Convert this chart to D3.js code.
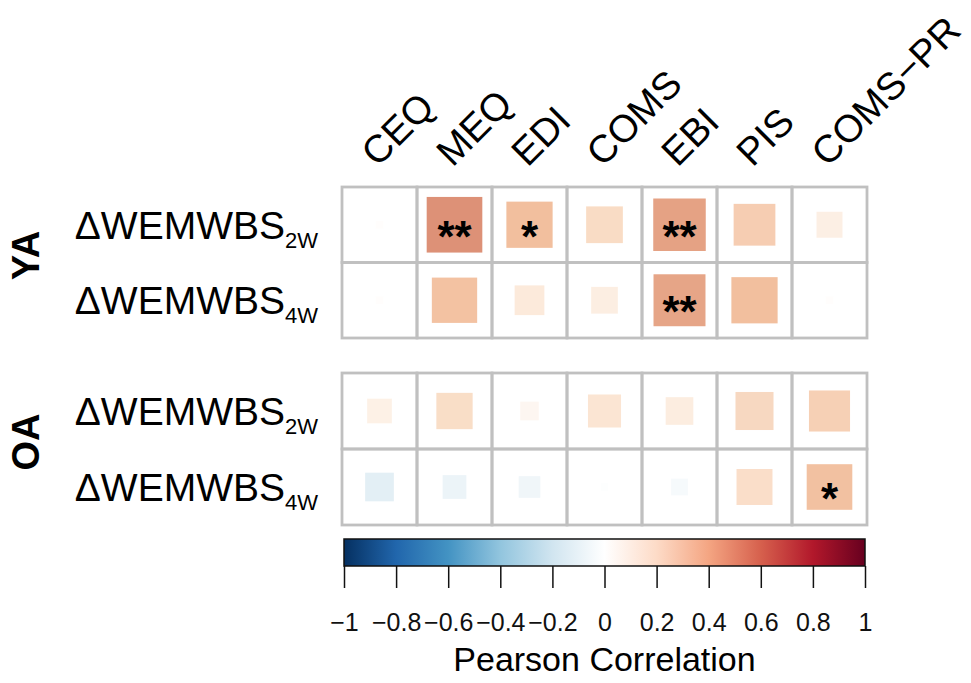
<!DOCTYPE html>
<html>
<head>
<meta charset="utf-8">
<script src="https://cdn.jsdelivr.net/npm/d3@7"></script>
<style>
  html, body { margin: 0; padding: 0; background: #fff; }
  svg { display: block; font-family: "Liberation Sans", Arial, Helvetica, sans-serif; }
</style>
</head>
<body>
<svg id="chart" width="971" height="683"></svg>
<script>
// ---- data ----
const measures = ["CEQ", "MEQ", "EDI", "COMS", "EBI", "PIS", "COMS\u2212PR"];
const groups = ["YA", "OA"];
const outcomes = ["2W", "4W"];
// Pearson r, rows: [2W, 4W] for each group
const valuesYA2W = [0.01, 0.55, 0.38, 0.24, 0.49, 0.31, 0.12];
const valuesYA4W = [0.01, 0.365, 0.157, 0.127, 0.48, 0.38, 0.01];
const valuesOA2W = [0.108, 0.234, 0.062, 0.194, 0.136, 0.257, 0.30];
const valuesOA4W = [-0.146, -0.10, -0.083, -0.01, -0.05, 0.23, 0.37];
const sigYA2W = ["", "**", "*", "", "**", "", ""];
const sigYA4W = ["", "", "", "", "**", "", ""];
const sigOA2W = ["", "", "", "", "", "", ""];
const sigOA4W = ["", "", "", "", "", "", "*"];
const colorTicks = [-1, -0.8, -0.6, -0.4, -0.2, 0, 0.2, 0.4, 0.6, 0.8, 1];
const paletteRdBu = ["#053061", "#2166AC", "#4393C3", "#92C5DE", "#D1E5F0", "#FFFFFF",
                     "#FDDBC7", "#F4A582", "#D6604D", "#B2182B", "#67001F"];

const panels = [
  { group: "YA", rows: [valuesYA2W, valuesYA4W], sig: [sigYA2W, sigYA4W], y0: 187, y1: 338 },
  { group: "OA", rows: [valuesOA2W, valuesOA4W], sig: [sigOA2W, sigOA4W], y0: 373, y1: 525 }
];

const svg = d3.select("#chart");
const x = d3.scaleBand().domain(measures).range([342, 867]);
const color = d3.scaleLinear().domain(colorTicks).range(paletteRdBu).interpolate(d3.interpolateRgb);
// squares in the reference look slightly softer / more orange than the pure palette
const squareColor = v => {
  const c = d3.hsl(color(v));
  if (v > 0 && !isNaN(c.h)) { c.h += 5; }
  if (!isNaN(c.s)) c.s *= 0.9;
  return c.formatHex();
};
const gridColor = "#c0c0c0";

// column labels
svg.append("g").selectAll("text").data(measures).join("text")
  .attr("transform", d => `translate(${x(d) + x.bandwidth() / 2 - 2},168) rotate(-45)`)
  .attr("font-size", 38.5)
  .attr("fill", "#000")
  .text(d => d);

panels.forEach(p => {
  const y = d3.scaleBand().domain(outcomes).range([p.y0, p.y1]);
  const g = svg.append("g");
  const cells = [];
  p.rows.forEach((vals, ri) => vals.forEach((v, ci) => cells.push({
    row: outcomes[ri], col: measures[ci], v, sig: p.sig[ri][ci]
  })));

  g.selectAll("rect.bg").data(cells).join("rect")
    .attr("class", "bg")
    .attr("x", d => x(d.col)).attr("y", d => y(d.row))
    .attr("width", x.bandwidth()).attr("height", y.bandwidth())
    .attr("fill", "#fff");

  // squares (side proportional to sqrt|r|)
  g.selectAll("rect.sq").data(cells).join("rect")
    .attr("class", "sq")
    .each(function (d) {
      const side = Math.min(x.bandwidth(), y.bandwidth()) * Math.sqrt(Math.abs(d.v));
      d3.select(this)
        .attr("x", x(d.col) + x.bandwidth() / 2 - side / 2)
        .attr("y", y(d.row) + y.bandwidth() / 2 - side / 2)
        .attr("width", side).attr("height", side);
    })
    .attr("fill", d => squareColor(d.v))
    .attr("fill-opacity", 0.86);

  g.selectAll("rect.grid").data(cells).join("rect")
    .attr("class", "grid")
    .attr("x", d => x(d.col)).attr("y", d => y(d.row))
    .attr("width", x.bandwidth()).attr("height", y.bandwidth())
    .attr("fill", "none")
    .attr("stroke", gridColor)
    .attr("stroke-width", 2.8);

  g.selectAll("text.sig").data(cells.filter(d => d.sig)).join("text")
    .attr("class", "sig")
    .attr("x", d => x(d.col) + x.bandwidth() / 2)
    .attr("y", d => y(d.row) + y.bandwidth() / 2 + 27)
    .attr("text-anchor", "middle")
    .attr("font-size", 44)
    .attr("font-weight", "bold")
    .attr("fill", "#000")
    .text(d => d.sig);

  const rl = g.selectAll("text.rl").data(outcomes).join("text")
    .attr("class", "rl")
    .attr("x", 318)
    .attr("y", d => y(d) + y.bandwidth() / 2 + 14)
    .attr("text-anchor", "end")
    .attr("font-size", 39)
    .attr("fill", "#000");
  rl.append("tspan").text("\u0394WEMWBS");
  rl.append("tspan").attr("font-size", 22).attr("dy", 9).text(d => d);

  svg.append("text")
    .attr("transform", `translate(39,${(p.y0 + p.y1) / 2 - 7}) rotate(-90)`)
    .attr("text-anchor", "middle")
    .attr("font-size", 38)
    .attr("font-weight", "bold")
    .attr("fill", "#000")
    .text(p.group);
});

// ---- colour bar ----
const cb = { x0: 344, x1: 865, y0: 539, y1: 566 };
const cx = d3.scaleLinear().domain([-1, 1]).range([cb.x0, cb.x1]);
const defs = svg.append("defs");
const grad = defs.append("linearGradient").attr("id", "cbgrad")
  .attr("x1", "0%").attr("x2", "100%").attr("y1", "0%").attr("y2", "0%");
grad.selectAll("stop").data(colorTicks).join("stop")
  .attr("offset", d => ((d + 1) / 2 * 100) + "%")
  .attr("stop-color", d => color(d));
svg.append("rect")
  .attr("x", cb.x0).attr("y", cb.y0)
  .attr("width", cb.x1 - cb.x0).attr("height", cb.y1 - cb.y0)
  .attr("fill", "url(#cbgrad)")
  .attr("stroke", "#111").attr("stroke-width", 1.5);

const axis = d3.axisBottom(cx).tickValues(colorTicks).tickSize(22).tickPadding(25)
  .tickFormat(d => d === 0 ? "0" : (d < 0 ? "\u2212" : "") + String(Math.abs(d)));
const ax = svg.append("g").attr("transform", `translate(0,${cb.y1})`).call(axis);
ax.select(".domain").remove();
ax.selectAll(".tick line").attr("stroke", "#111").attr("stroke-width", 1.5);
ax.selectAll(".tick text").attr("font-size", 25).attr("fill", "#111")
  .attr("font-family", "'Liberation Sans', Arial, sans-serif");

svg.append("text")
  .attr("x", (cb.x0 + cb.x1) / 2).attr("y", 671)
  .attr("text-anchor", "middle")
  .attr("font-size", 34)
  .attr("fill", "#000")
  .text("Pearson Correlation");
</script>
</body>
</html>
